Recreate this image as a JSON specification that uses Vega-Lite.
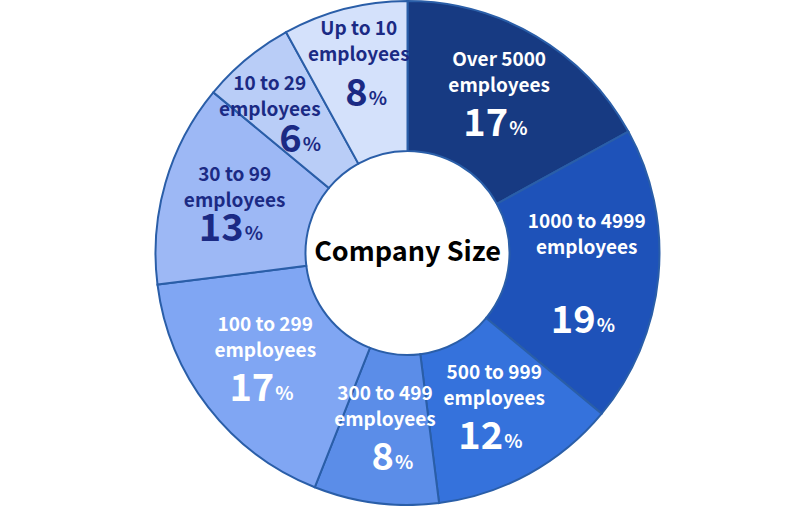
{
  "$schema": "https://vega.github.io/schema/vega-lite/v6.json",
  "width": 800,
  "height": 506,
  "autosize": {"type": "fit", "contains": "padding"},
  "padding": {"left": 15, "right": 0, "top": 0, "bottom": 0},
  "background": "white",
  "config": {"view": {"stroke": null}},
  "data": {
    "values": [
      {"order": 1, "group": "Over 5000", "label": "Over 5000\nemployees", "pct": 17, "num": "17", "dark": "yes"},
      {"order": 2, "group": "1000 to 4999", "label": "1000 to 4999\nemployees", "pct": 19, "num": "19", "dark": "yes"},
      {"order": 3, "group": "500 to 999", "label": "500 to 999\nemployees", "pct": 12, "num": "12", "dark": "yes"},
      {"order": 4, "group": "300 to 499", "label": "300 to 499\nemployees", "pct": 8, "num": "8", "dark": "yes"},
      {"order": 5, "group": "100 to 299", "label": "100 to 299\nemployees", "pct": 17, "num": "17", "dark": "yes"},
      {"order": 6, "group": "30 to 99", "label": "30 to 99\nemployees", "pct": 13, "num": "13", "dark": "no"},
      {"order": 7, "group": "10 to 29", "label": "10 to 29\nemployees", "pct": 6, "num": "6", "dark": "no"},
      {"order": 8, "group": "Up to 10", "label": "Up to 10\nemployees", "pct": 8, "num": "8", "dark": "no"}
    ]
  },
  "encoding": {
    "theta": {"field": "pct", "type": "quantitative", "stack": true},
    "order": {"field": "order", "type": "quantitative"}
  },
  "layer": [
    {
      "mark": {"type": "arc", "outerRadius": 252, "innerRadius": 102, "stroke": "#2a5ea8", "strokeWidth": 2},
      "encoding": {
        "color": {
          "field": "group", "type": "nominal", "legend": null,
          "scale": {
            "domain": ["Over 5000", "1000 to 4999", "500 to 999", "300 to 499", "100 to 299", "30 to 99", "10 to 29", "Up to 10"],
            "range": ["#173a82", "#1e52b9", "#3572dc", "#5b8de8", "#80a6f3", "#9db8f5", "#b9cdf7", "#d4e1fb"]
          }
        }
      }
    },
    {
      "mark": {"type": "text", "radius": 180, "lineBreak": "\n", "font": "Noto Sans CJK JP", "fontWeight": "bold", "baseline": "middle", "fontSize": 19, "lineHeight": 26, "dy": -38},
      "encoding": {
        "text": {"field": "label"},
        "color": {"condition": {"test": "datum.dark === 'yes'", "value": "#ffffff"}, "value": "#1b2a84"},
        "opacity": {"condition": {"test": "datum.group !== 'Up to 10' && datum.group !== '10 to 29' && datum.group !== '1000 to 4999' && datum.group !== '30 to 99'", "value": 1}, "value": 0}
      }
    },
    {
      "mark": {"type": "text", "radius": 196, "lineBreak": "\n", "font": "Noto Sans CJK JP", "fontWeight": "bold", "baseline": "middle", "fontSize": 19, "lineHeight": 26, "dy": -34},
      "encoding": {
        "text": {"field": "label"},
        "color": {"condition": {"test": "datum.dark === 'yes'", "value": "#ffffff"}, "value": "#1b2a84"},
        "opacity": {"condition": {"test": "datum.group === 'Up to 10'", "value": 1}, "value": 0}
      }
    },
    {
      "mark": {"type": "text", "radius": 180, "lineBreak": "\n", "font": "Noto Sans CJK JP", "fontWeight": "bold", "baseline": "middle", "fontSize": 19, "lineHeight": 26, "dx": -23, "dy": -30},
      "encoding": {
        "text": {"field": "label"},
        "color": {"condition": {"test": "datum.dark === 'yes'", "value": "#ffffff"}, "value": "#1b2a84"},
        "opacity": {"condition": {"test": "datum.group === '10 to 29'", "value": 1}, "value": 0}
      }
    },
    {
      "mark": {"type": "text", "radius": 180, "lineBreak": "\n", "font": "Noto Sans CJK JP", "fontWeight": "bold", "baseline": "middle", "fontSize": 19, "lineHeight": 26, "dy": -28},
      "encoding": {
        "text": {"field": "label"},
        "color": {"condition": {"test": "datum.dark === 'yes'", "value": "#ffffff"}, "value": "#1b2a84"},
        "opacity": {"condition": {"test": "datum.group === '30 to 99'", "value": 1}, "value": 0}
      }
    },
    {
      "mark": {"type": "text", "radius": 180, "lineBreak": "\n", "font": "Noto Sans CJK JP", "fontWeight": "bold", "baseline": "middle", "fontSize": 19, "lineHeight": 26, "dy": -48},
      "encoding": {
        "text": {"field": "label"},
        "color": {"condition": {"test": "datum.dark === 'yes'", "value": "#ffffff"}, "value": "#1b2a84"},
        "opacity": {"condition": {"test": "datum.group === '1000 to 4999'", "value": 1}, "value": 0}
      }
    },
    {
      "mark": {"type": "text", "radius": 180, "font": "Noto Sans CJK JP", "fontWeight": "bold", "baseline": "middle", "fontSize": 38, "align": "right", "dx": 9, "dy": 27},
      "encoding": {
        "text": {"field": "num"},
        "color": {"condition": {"test": "datum.dark === 'yes'", "value": "#ffffff"}, "value": "#1b2a84"},
        "opacity": {"condition": {"test": "datum.group !== 'Up to 10' && datum.group !== '1000 to 4999'", "value": 1}, "value": 0}
      }
    },
    {
      "mark": {"type": "text", "radius": 180, "font": "Noto Sans CJK JP", "fontWeight": "bold", "baseline": "middle", "fontSize": 19, "align": "left", "dx": 10, "dy": 31},
      "encoding": {
        "text": {"value": "%"},
        "color": {"condition": {"test": "datum.dark === 'yes'", "value": "#ffffff"}, "value": "#1b2a84"},
        "opacity": {"condition": {"test": "datum.group !== 'Up to 10' && datum.group !== '1000 to 4999'", "value": 1}, "value": 0}
      }
    },
    {
      "mark": {"type": "text", "radius": 196, "font": "Noto Sans CJK JP", "fontWeight": "bold", "baseline": "middle", "fontSize": 38, "align": "right", "dx": 9, "dy": 32},
      "encoding": {
        "text": {"field": "num"},
        "color": {"condition": {"test": "datum.dark === 'yes'", "value": "#ffffff"}, "value": "#1b2a84"},
        "opacity": {"condition": {"test": "datum.group === 'Up to 10'", "value": 1}, "value": 0}
      }
    },
    {
      "mark": {"type": "text", "radius": 196, "font": "Noto Sans CJK JP", "fontWeight": "bold", "baseline": "middle", "fontSize": 19, "align": "left", "dx": 10, "dy": 36},
      "encoding": {
        "text": {"value": "%"},
        "color": {"condition": {"test": "datum.dark === 'yes'", "value": "#ffffff"}, "value": "#1b2a84"},
        "opacity": {"condition": {"test": "datum.group === 'Up to 10'", "value": 1}, "value": 0}
      }
    },
    {
      "mark": {"type": "text", "radius": 180, "font": "Noto Sans CJK JP", "fontWeight": "bold", "baseline": "middle", "fontSize": 38, "align": "right", "dx": 9, "dy": 52},
      "encoding": {
        "text": {"field": "num"},
        "color": {"condition": {"test": "datum.dark === 'yes'", "value": "#ffffff"}, "value": "#1b2a84"},
        "opacity": {"condition": {"test": "datum.group === '1000 to 4999'", "value": 1}, "value": 0}
      }
    },
    {
      "mark": {"type": "text", "radius": 180, "font": "Noto Sans CJK JP", "fontWeight": "bold", "baseline": "middle", "fontSize": 19, "align": "left", "dx": 10, "dy": 56},
      "encoding": {
        "text": {"value": "%"},
        "color": {"condition": {"test": "datum.dark === 'yes'", "value": "#ffffff"}, "value": "#1b2a84"},
        "opacity": {"condition": {"test": "datum.group === '1000 to 4999'", "value": 1}, "value": 0}
      }
    },
    {
      "data": {"values": [{"title": "Company Size"}]},
      "mark": {"type": "text", "font": "Noto Sans CJK JP", "fontWeight": "bold", "baseline": "middle", "fontSize": 27, "color": "#000000", "align": "center"},
      "encoding": {
        "text": {"field": "title"},
        "theta": null,
        "order": null
      }
    }
  ]
}
